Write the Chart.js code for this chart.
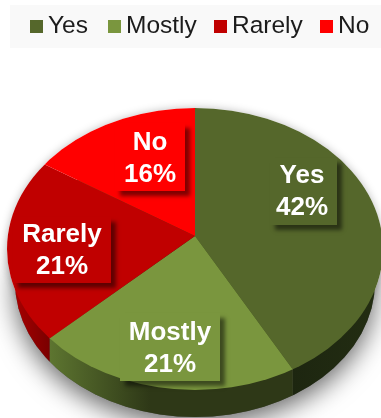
<!DOCTYPE html>
<html>
<head>
<meta charset="utf-8">
<style>
  html, body { margin: 0; padding: 0; background: #fff; overflow: hidden; }
  #wrap { position: relative; width: 381px; height: 418px; }
</style>
</head>
<body>
<div id="wrap"><canvas id="pie" width="381" height="418"></canvas></div>
<script src="https://cdn.jsdelivr.net/npm/chart.js@4"></script>
<script>
const categories = ['Yes', 'Mostly', 'Rarely', 'No'];
const shares = [42, 21, 21, 16];
const face_colors = ['#55672b', '#7a963e', '#c00000', '#ff0000'];
const wall_colors = [
    ['#1d2610', '#232d12'],
    ['#5d7530', '#2e3817'],
    ['#b00000', '#7a0000'],
];

// value boxes: left, top, right, bottom, then the two text lines
const value_boxes = [
    [270, 158, 337, 225, 176, 208],
    [120, 313, 220, 381, 333, 365],
    [13, 217, 111, 283, 235, 267],
    [115, 123, 185, 191, 143, 175],
];
const legend_marks = [30, 108, 214, 320];

// the rim is a flattened circle whose centre lies a little below the apex
const squash = 0.75;
const rim = { x: 195, y: 249, rx: 188, ry: 141 };
const floor_rim = { x: 195, y: 282, rx: 180, ry: 135 };

function ellipsePath(ctx, e) {
    ctx.beginPath();
    ctx.ellipse(e.x, e.y, e.rx, e.ry, 0, 0, Math.PI * 2);
}

// x position where a slice edge leaves the rim
function rimX(apex, angle) {
    const dx = Math.cos(angle);
    const dy = Math.sin(angle) * squash;
    const oy = apex.y - rim.y;
    const a = dx * dx / (rim.rx * rim.rx) + dy * dy / (rim.ry * rim.ry);
    const b = 2 * oy * dy / (rim.ry * rim.ry);
    const c = oy * oy / (rim.ry * rim.ry) - 1;
    const t = (-b + Math.sqrt(b * b - 4 * a * c)) / (2 * a);
    return apex.x + t * dx;
}

const tilted_pie = {
    id: 'tiltedPie',
    beforeDatasetsDraw(chart) {
        const ctx = chart.ctx;
        const arcs = chart.getDatasetMeta(0).data;
        const apex = { x: arcs[0].x, y: arcs[0].y };

        // soft shadow on the floor and a faint one round the disc
        ctx.save();
        ctx.shadowColor = 'rgba(0,0,0,0.6)';
        ctx.shadowBlur = 26;
        ctx.shadowOffsetY = 8;
        ctx.fillStyle = '#555';
        ellipsePath(ctx, floor_rim);
        ctx.fill();
        ctx.shadowColor = 'rgba(0,0,0,0.25)';
        ctx.shadowBlur = 8;
        ctx.shadowOffsetY = 0;
        ctx.fillStyle = '#fff';
        ellipsePath(ctx, rim);
        ctx.fill();
        ctx.restore();

        // side walls: Yes runs off to the right, Rarely off to the left
        const seam_yes = rimX(apex, arcs[0].endAngle);
        const seam_rarely = rimX(apex, arcs[1].endAngle);
        const strips = [[seam_yes, 381, seam_yes, 381], [seam_rarely, seam_yes, seam_rarely, 150], [0, seam_rarely, 8, seam_rarely]];
        strips.forEach((s, i) => {
            ctx.save();
            ctx.beginPath();
            ctx.rect(s[0], 0, s[1] - s[0], 418);
            ctx.clip();
            const grad = ctx.createLinearGradient(s[2], 0, s[3], 0);
            grad.addColorStop(0, wall_colors[i][0]);
            grad.addColorStop(1, wall_colors[i][1]);
            ctx.fillStyle = grad;
            ellipsePath(ctx, floor_rim);
            ctx.fill();
            ctx.restore();
        });

        // flatten the disc and trim it to the rim
        ctx.save();
        ellipsePath(ctx, rim);
        ctx.clip();
        ctx.translate(apex.x, apex.y);
        ctx.scale(1, squash);
        ctx.translate(-apex.x, -apex.y);
    },
    afterDatasetsDraw(chart) {
        const ctx = chart.ctx;
        ctx.restore();

        // value boxes, shadow falls to the lower right only
        categories.forEach((name, i) => {
            const [l, t, r, b, line1, line2] = value_boxes[i];
            ctx.save();
            ctx.shadowColor = 'rgba(0,0,0,0.5)';
            ctx.shadowBlur = 4;
            ctx.shadowOffsetX = 5;
            ctx.shadowOffsetY = 5;
            ctx.fillStyle = face_colors[i];
            ctx.fillRect(l, t, r - l, b - t);
            ctx.restore();
            ctx.fillStyle = '#fff';
            ctx.font = 'bold 26px "Liberation Sans"';
            ctx.textAlign = 'center';
            ctx.textBaseline = 'middle';
            const mid = (l + r) / 2;
            ctx.fillText(name, i === 0 ? 302 : mid, line1);
            ctx.fillText(shares[i] + '%', i === 0 ? 302 : mid, line2);
        });

        // legend strip
        ctx.fillStyle = '#f9f9f9';
        ctx.fillRect(10, 5, 371, 43);
        ctx.font = '24.5px "Liberation Sans"';
        ctx.textAlign = 'left';
        ctx.textBaseline = 'middle';
        categories.forEach((name, i) => {
            ctx.fillStyle = face_colors[i];
            ctx.fillRect(legend_marks[i], 20, 13, 13);
            ctx.fillStyle = '#1c1c1c';
            ctx.fillText(name, legend_marks[i] + 18, 26);
        });
    },
};

const data_pie = {
    labels: categories,
    datasets: [
        {
            data: shares,
            backgroundColor: face_colors,
            borderWidth: 0,
        },
    ],
};

const config_pie = {
    type: 'pie',
    data: data_pie,
    options: {
        responsive: false,
        animation: false,
        radius: 240,
        layout: { padding: { left: 9, top: 54 } },
        plugins: {
            legend: { display: false },
            tooltip: { enabled: false },
        },
    },
    plugins: [tilted_pie],
};

const myPie = new Chart(document.getElementById('pie'), config_pie);
</script>
</body>
</html>
